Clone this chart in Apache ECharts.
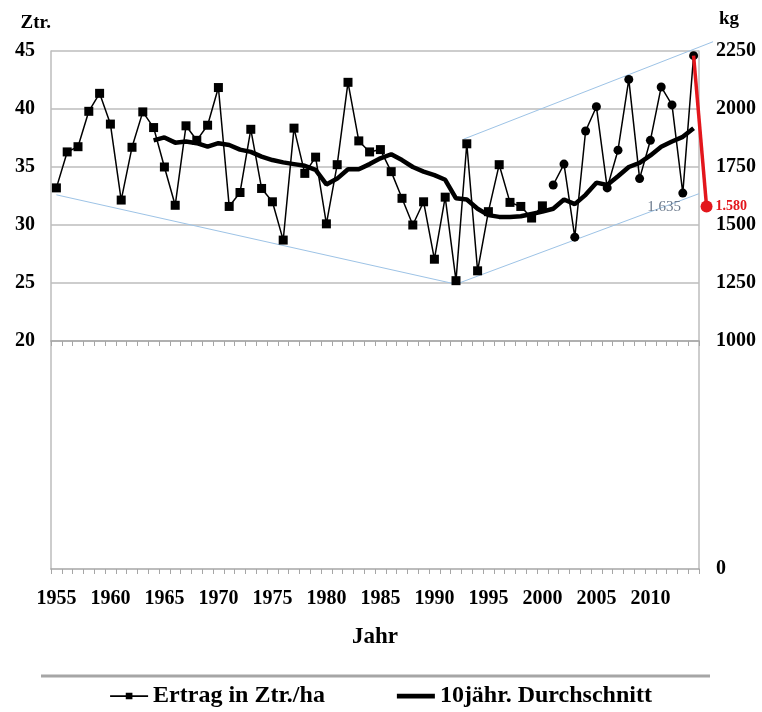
<!DOCTYPE html>
<html>
<head>
<meta charset="utf-8">
<script src="https://cdn.jsdelivr.net/npm/echarts@6/dist/echarts.min.js"></script>
<style>
  html, body { margin: 0; padding: 0; background: #fff; }
  #chart { width: 762px; height: 712px; }
</style>
</head>
<body>
<div id="chart"></div>
<script>
// Jahre (Kategorien)
var years = ['1955','1956','1957','1958','1959','1960','1961','1962','1963','1964',
  '1965','1966','1967','1968','1969','1970','1971','1972','1973','1974',
  '1975','1976','1977','1978','1979','1980','1981','1982','1983','1984',
  '1985','1986','1987','1988','1989','1990','1991','1992','1993','1994',
  '1995','1996','1997','1998','1999','2000','2001','2002','2003','2004',
  '2005','2006','2007','2008','2009','2010','2011','2012','2013','2014'];

// Ertrag in Ztr./ha, 1955-2000 (Quadrate)
var ertragAlt = [33.2, 36.3, 36.75, 39.8, 41.35, 38.7, 32.15, 36.7, 39.75, 38.4,
  35.0, 31.7, 38.55, 37.3, 38.6, 41.85, 31.6, 32.8, 38.25, 33.15,
  32.0, 28.7, 38.35, 34.45, 35.85, 30.1, 35.2, 42.3, 37.25, 36.3,
  36.5, 34.6, 32.3, 30.0, 32.0, 27.05, 32.4, 25.2, 37.0, 26.05,
  31.15, 35.2, 31.95, 31.6, 30.6, 31.65];
// Ertrag in Ztr./ha, 2001-2014 (Punkte)
var ertragNeu = [33.45, 35.25, 28.95, 38.1, 40.2, 33.2, 36.45, 42.55, 34.0, 37.3,
  41.9, 40.35, 32.75, 44.6];

// 10jaehriger Durchschnitt, ab 1964
var schnittStart = 1964;
var schnitt = [37.3, 37.55, 37.1, 37.2, 37.05, 36.75, 37.05, 36.9, 36.5, 36.3,
  35.9, 35.6, 35.4, 35.25, 35.1, 34.75, 33.5, 34.0, 34.8, 34.8,
  35.25, 35.75, 36.1, 35.6, 35.0, 34.6, 34.3, 33.9, 32.3, 32.2,
  31.4, 30.85, 30.7, 30.7, 30.75, 30.95, 31.15, 31.4, 32.2, 31.8,
  32.6, 33.65, 33.45, 34.2, 35.0, 35.35, 36.0, 36.75, 37.2, 37.6, 38.35];

// Trendkanal (Jahr, kg)
var kanalUnten = [[1955, 1630], [1992, 1245], [2014.5, 1635]];
var kanalOben = [[1992.7, 1870], [2015.8, 2290]];
// Absturz auf 1.580 kg
var absturz = [[2014, 2230], [2015.2, 1580]];

var ztrTicks = { min: 20, max: 45, step: 5 };
var kgTicks = { min: 1000, max: 2250, step: 250 };

var serif = '"Liberation Serif", "DejaVu Serif", serif';
var gridGrau = '#bdbdbd';
var labelStyle = { color: '#000', fontFamily: serif, fontWeight: 'bold', fontSize: 20 };

function punkt(v) {
  return String(Math.round(v)).replace(/\B(?=(\d{3})+$)/, '.');
}
function plain(v) { return String(v); }

var dataAlt = ertragAlt.map(function (v, i) { return [years[i], v]; });
var dataNeu = ertragNeu.map(function (v, i) { return [years[ertragAlt.length + i], v]; });
var dataSchnitt = schnitt.map(function (v, i) {
  return [String(schnittStart + i), v];
});

var chart = echarts.init(document.getElementById('chart'));

// Breite pro Jahr im Hauptgitter (648 px / 60 Jahre)
var pxJahr = 648 / 60;
var pxKg = 290 / 1250;

var option = {
  backgroundColor: '#fff',
  animation: false,
  textStyle: { fontFamily: serif },
  grid: [
    { left: 51, right: 63, top: 51, height: 290 },
    { left: 51, right: 63, top: 341, bottom: 143 },
    // Overlay fuer Annotationen (breiter/hoeher, damit nichts abgeschnitten wird)
    { left: 51, width: 64 * pxJahr, top: 51 - 150 * pxKg, height: 290 + 150 * pxKg }
  ],
  legend: {
    data: [
      { name: 'Ertrag in Ztr./ha', icon: 'path://M0,3.2h40v1.8h-40z M16.5,0.5h7v7h-7z' },
      { name: '10jähr. Durchschnitt', icon: 'path://M0,0h40v5h-40z' }
    ],
    top: 679,
    left: 'center',
    itemGap: 72,
    itemWidth: 38,
    itemHeight: 10,
    textStyle: { fontFamily: serif, fontWeight: 'bold', fontSize: 24, color: '#000' }
  },
  graphic: [{
    type: 'line',
    shape: { x1: 41, y1: 676, x2: 710, y2: 676 },
    style: { stroke: '#a6a6a6', lineWidth: 3 }
  }],
  xAxis: [
    {
      type: 'category', gridIndex: 0, data: years, boundaryGap: true,
      axisLine: { lineStyle: { color: '#a6a6a6', width: 1.5 } },
      axisTick: { show: true, interval: 0, length: 5, lineStyle: { color: '#a6a6a6' } },
      axisLabel: { show: false },
      splitLine: { show: false }
    },
    {
      type: 'category', gridIndex: 1, data: years, boundaryGap: true,
      name: 'Jahr', nameLocation: 'middle', nameGap: 57,
      nameTextStyle: { fontFamily: serif, fontWeight: 'bold', fontSize: 23, color: '#000' },
      axisLine: { lineStyle: { color: '#a6a6a6', width: 1.5 } },
      axisTick: { show: true, interval: 0, length: 5, lineStyle: { color: '#a6a6a6' } },
      axisLabel: Object.assign({ interval: 4, margin: 20 }, labelStyle),
      splitLine: { show: false }
    },
    {
      type: 'value', gridIndex: 2, min: 1954.5, max: 2018.5, show: false
    }
  ],
  yAxis: [
    {
      type: 'value', gridIndex: 0, position: 'left',
      min: ztrTicks.min, max: ztrTicks.max, interval: ztrTicks.step,
      name: 'Ztr.', nameGap: 18,
      nameTextStyle: { align: 'right', fontFamily: serif, fontWeight: 'bold', fontSize: 19, color: '#000' },
      axisLine: { show: true, lineStyle: { color: gridGrau, width: 1.5 } },
      axisTick: { show: false },
      axisLabel: Object.assign({ margin: 16, formatter: plain }, labelStyle),
      splitLine: { show: true, lineStyle: { color: gridGrau, width: 1.5 } }
    },
    {
      type: 'value', gridIndex: 0, position: 'right',
      min: kgTicks.min, max: kgTicks.max, interval: kgTicks.step,
      name: 'kg', nameGap: 22,
      nameTextStyle: { align: 'left', padding: [0, 0, 0, 20], fontFamily: serif, fontWeight: 'bold', fontSize: 19, color: '#000' },
      axisLine: { show: true, lineStyle: { color: gridGrau, width: 1.5 } },
      axisTick: { show: false },
      axisLabel: Object.assign({ margin: 17, formatter: plain }, labelStyle),
      splitLine: { show: false }
    },
    {
      type: 'value', gridIndex: 1, position: 'left', min: 0, max: 20,
      axisLine: { show: true, lineStyle: { color: gridGrau, width: 1.5 } },
      axisTick: { show: false }, axisLabel: { show: false }, splitLine: { show: false }
    },
    {
      type: 'value', gridIndex: 1, position: 'right', min: 0, max: 1000, interval: 1000,
      axisLine: { show: true, lineStyle: { color: gridGrau, width: 1.5 } },
      axisTick: { show: false },
      axisLabel: Object.assign({ showMaxLabel: false, margin: 17, padding: [10, 0, 0, 0], formatter: plain }, labelStyle),
      splitLine: { show: false }
    },
    {
      type: 'value', gridIndex: 2, min: 1000, max: 2400, show: false
    }
  ],
  series: [
    {
      name: '10jähr. Durchschnitt', type: 'line', xAxisIndex: 0, yAxisIndex: 0,
      data: dataSchnitt, symbol: 'none', z: 3,
      lineStyle: { color: '#000', width: 4.5 },
      itemStyle: { color: '#000' }
    },
    {
      name: 'Ertrag in Ztr./ha', type: 'line', xAxisIndex: 0, yAxisIndex: 0,
      data: dataAlt, symbol: 'rect', symbolSize: 9, showSymbol: true, showAllSymbol: true, z: 4,
      lineStyle: { color: '#000', width: 1.5 },
      itemStyle: { color: '#000' }
    },
    {
      name: 'Ertrag in Ztr./ha', type: 'line', xAxisIndex: 0, yAxisIndex: 0,
      data: dataNeu, symbol: 'circle', symbolSize: 9, showSymbol: true, showAllSymbol: true, z: 4,
      lineStyle: { color: '#000', width: 1.5 },
      itemStyle: { color: '#000' }
    },
    {
      name: 'kanalUnten', type: 'line', xAxisIndex: 2, yAxisIndex: 4,
      data: kanalUnten.map(function (p, i) {
        var d = { value: p };
        if (i === kanalUnten.length - 1) {
          d.label = {
            show: true, position: 'bottom', offset: [-35, 1],
            formatter: function (o) { return punkt(o.value[1]); },
            color: '#6d7b8d', fontFamily: serif, fontSize: 15
          };
        }
        return d;
      }),
      symbol: 'circle', symbolSize: 0, showSymbol: true, showAllSymbol: true, silent: true, z: 2,
      lineStyle: { color: '#9dc3e6', width: 1 },
      itemStyle: { color: '#9dc3e6' }
    },
    {
      name: 'kanalOben', type: 'line', xAxisIndex: 2, yAxisIndex: 4,
      data: kanalOben, symbol: 'none', silent: true, z: 2,
      lineStyle: { color: '#9dc3e6', width: 1 }
    },
    {
      name: 'absturz', type: 'line', xAxisIndex: 2, yAxisIndex: 4,
      data: absturz.map(function (p, i) {
        var d = { value: p, symbolSize: 0 };
        if (i === absturz.length - 1) {
          d.symbolSize = 12;
          d.label = {
            show: true, position: 'right', distance: 3,
            formatter: function (o) { return punkt(o.value[1]); },
            color: '#e3161c', fontFamily: serif, fontWeight: 'bold', fontSize: 14
          };
        }
        return d;
      }),
      symbol: 'circle', showSymbol: true, showAllSymbol: true, silent: true, z: 5,
      lineStyle: { color: '#e3161c', width: 3.5 },
      itemStyle: { color: '#e3161c' }
    }
  ]
};

chart.setOption(option);
</script>
</body>
</html>
